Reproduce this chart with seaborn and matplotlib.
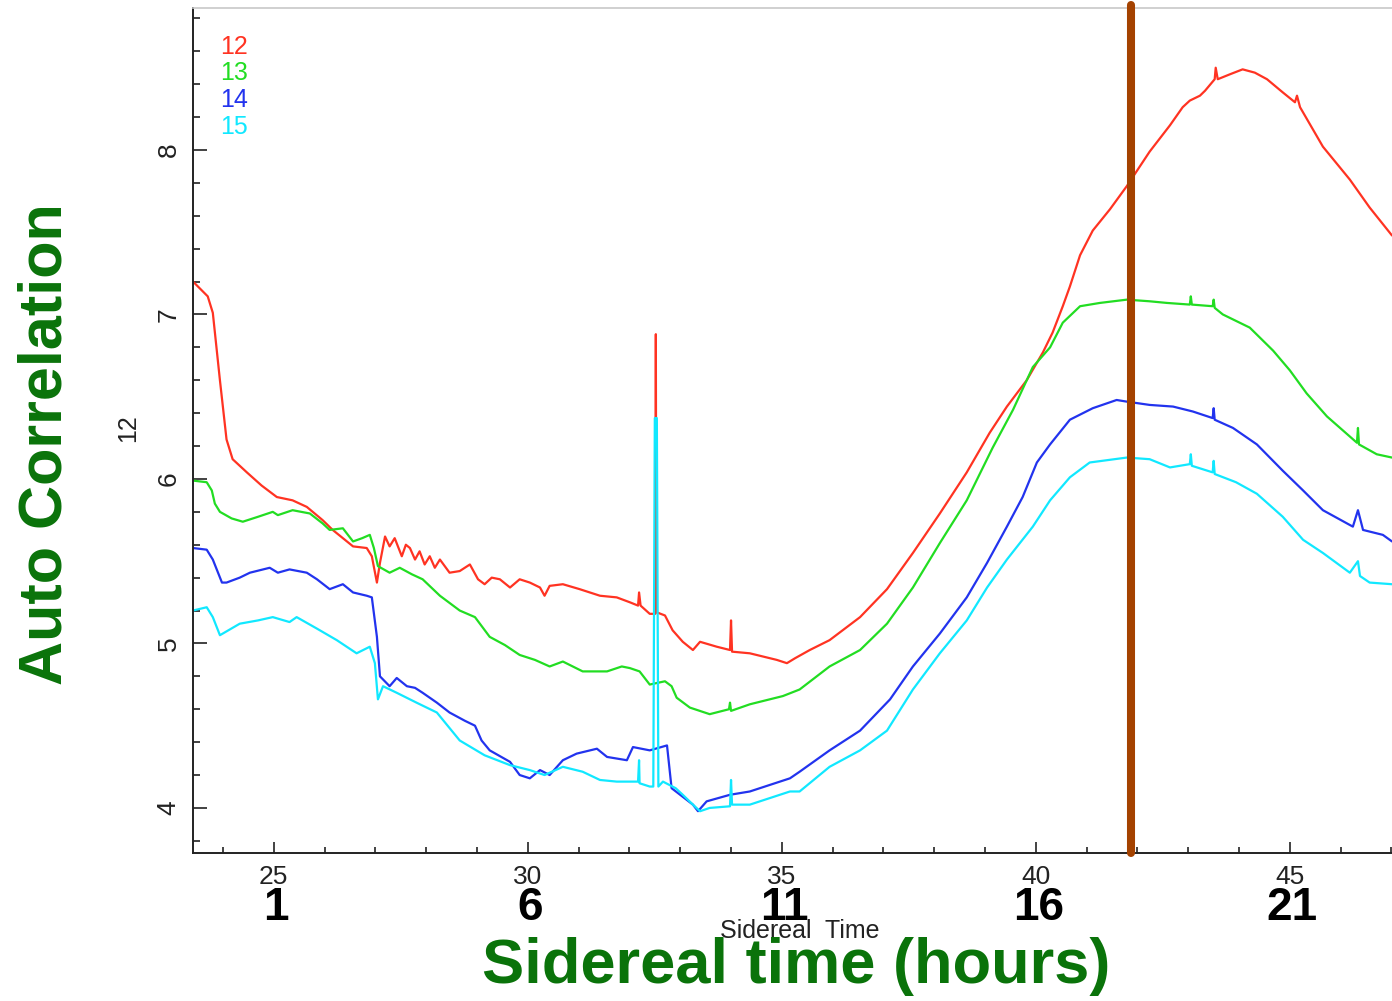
import numpy as np
import pandas as pd
import matplotlib
matplotlib.use("Agg")
import matplotlib.pyplot as plt
import seaborn as sns
from matplotlib.ticker import MultipleLocator, FixedLocator
from matplotlib.transforms import blended_transform_factory

# ---------------- data ----------------
channels = ["12", "13", "14", "15"]
line_colors = ["#ff3322", "#22dd22", "#2233ee", "#11e8ff"]

t12 = [23.41, 23.70, 23.80, 23.94, 24.07, 24.19, 24.47, 24.76, 25.06, 25.37, 25.65, 25.96, 26.16, 26.36,
       26.56, 26.83, 26.93, 27.03, 27.09, 27.19, 27.28, 27.38, 27.52, 27.60, 27.68, 27.78, 27.87, 27.97,
       28.07, 28.17, 28.27, 28.46, 28.66, 28.86, 29.02, 29.15, 29.29, 29.45, 29.65, 29.84, 30.04, 30.24,
       30.33, 30.43, 30.69, 31.02, 31.42, 31.75, 32.01, 32.17, 32.19, 32.22, 32.40, 32.51, 32.52, 32.53,
       32.70, 32.85, 33.05, 33.25, 33.39, 33.72, 33.98, 34.00, 34.02, 34.37, 34.90, 35.10, 35.26, 35.55,
       35.94, 36.24, 36.54, 37.07, 37.58, 38.11, 38.64, 39.09, 39.43, 39.82, 40.14, 40.33, 40.53, 40.67,
       40.87, 41.12, 41.46, 41.79, 42.24, 42.64, 42.89, 43.03, 43.23, 43.33, 43.52, 43.54, 43.58, 43.82,
       44.07, 44.31, 44.55, 44.86, 45.10, 45.14, 45.20, 45.65, 46.18, 46.57, 47.01]
ac12 = [7.20, 7.11, 7.01, 6.60, 6.24, 6.12, 6.04, 5.96, 5.89, 5.87, 5.83, 5.75, 5.69, 5.64,
        5.59, 5.58, 5.53, 5.37, 5.49, 5.65, 5.59, 5.64, 5.53, 5.60, 5.58, 5.51, 5.56, 5.48,
        5.53, 5.46, 5.51, 5.43, 5.44, 5.48, 5.39, 5.36, 5.40, 5.39, 5.34, 5.39, 5.37, 5.34,
        5.29, 5.35, 5.36, 5.33, 5.29, 5.28, 5.25, 5.23, 5.31, 5.23, 5.18, 5.18, 6.88, 5.19,
        5.17, 5.08, 5.01, 4.96, 5.01, 4.98, 4.96, 5.14, 4.95, 4.94, 4.90, 4.88, 4.91, 4.96,
        5.02, 5.09, 5.16, 5.33, 5.55, 5.79, 6.04, 6.28, 6.44, 6.60, 6.77, 6.89, 7.05, 7.17,
        7.36, 7.51, 7.64, 7.78, 7.99, 8.15, 8.26, 8.30, 8.33, 8.36, 8.43, 8.50, 8.43, 8.46,
        8.49, 8.47, 8.43, 8.35, 8.29, 8.33, 8.26, 8.02, 7.82, 7.65, 7.48]

t13 = [23.41, 23.68, 23.78, 23.84, 23.94, 24.17, 24.39, 24.69, 24.98, 25.08, 25.37, 25.71, 25.96, 26.10,
       26.36, 26.56, 26.74, 26.89, 26.97, 27.05, 27.28, 27.48, 27.72, 27.93, 28.27, 28.66, 28.96, 29.25,
       29.55, 29.84, 30.14, 30.43, 30.69, 31.08, 31.56, 31.85, 32.01, 32.20, 32.40, 32.70, 32.83, 32.93,
       33.19, 33.58, 33.96, 33.98, 34.00, 34.37, 35.02, 35.35, 35.94, 36.54, 37.07, 37.58, 38.11, 38.64,
       39.15, 39.55, 39.94, 40.28, 40.53, 40.87, 41.26, 41.79, 42.24, 42.58, 43.03, 43.05, 43.07, 43.48,
       43.50, 43.52, 43.68, 44.21, 44.67, 45.00, 45.33, 45.73, 46.32, 46.34, 46.36, 46.71, 47.01]
ac13 = [5.99, 5.98, 5.93, 5.85, 5.80, 5.76, 5.74, 5.77, 5.80, 5.78, 5.81, 5.79, 5.73, 5.69,
        5.70, 5.62, 5.64, 5.66, 5.58, 5.47, 5.43, 5.46, 5.42, 5.39, 5.29, 5.20, 5.16, 5.04,
        4.99, 4.93, 4.90, 4.86, 4.89, 4.83, 4.83, 4.86, 4.85, 4.83, 4.75, 4.77, 4.74, 4.67,
        4.61, 4.57, 4.60, 4.64, 4.59, 4.63, 4.68, 4.72, 4.86, 4.96, 5.12, 5.34, 5.61, 5.87,
        6.19, 6.42, 6.68, 6.80, 6.95, 7.05, 7.07, 7.09, 7.08, 7.07, 7.06, 7.11, 7.06, 7.05,
        7.09, 7.04, 7.00, 6.92, 6.78, 6.66, 6.52, 6.38, 6.22, 6.31, 6.21, 6.15, 6.13]

t14 = [23.41, 23.68, 23.80, 23.98, 24.07, 24.33, 24.53, 24.92, 25.08, 25.31, 25.65, 25.85, 26.10, 26.36,
       26.56, 26.83, 26.93, 27.03, 27.09, 27.28, 27.42, 27.62, 27.78, 27.93, 28.21, 28.46, 28.76, 28.96,
       29.09, 29.25, 29.65, 29.84, 30.04, 30.24, 30.43, 30.69, 30.96, 31.36, 31.56, 31.95, 32.07, 32.40,
       32.74, 32.83, 33.25, 33.35, 33.52, 33.98, 34.37, 35.16, 35.35, 35.94, 36.54, 37.13, 37.58, 38.11,
       38.64, 39.04, 39.43, 39.74, 40.02, 40.28, 40.67, 41.12, 41.59, 41.79, 42.24, 42.70, 43.09, 43.48,
       43.50, 43.52, 43.88, 44.35, 44.86, 45.26, 45.65, 46.24, 46.34, 46.44, 46.83, 47.01]
ac14 = [5.58, 5.57, 5.51, 5.37, 5.37, 5.40, 5.43, 5.46, 5.43, 5.45, 5.43, 5.39, 5.33, 5.36,
        5.31, 5.29, 5.28, 5.04, 4.80, 4.74, 4.79, 4.74, 4.73, 4.70, 4.64, 4.58, 4.53, 4.50,
        4.41, 4.35, 4.28, 4.20, 4.18, 4.23, 4.20, 4.29, 4.33, 4.36, 4.31, 4.29, 4.37, 4.35,
        4.38, 4.12, 4.02, 3.98, 4.04, 4.08, 4.10, 4.18, 4.22, 4.35, 4.47, 4.66, 4.86, 5.06,
        5.28, 5.49, 5.71, 5.89, 6.10, 6.21, 6.36, 6.43, 6.48, 6.47, 6.45, 6.44, 6.41, 6.37,
        6.43, 6.36, 6.31, 6.21, 6.05, 5.93, 5.81, 5.71, 5.81, 5.69, 5.66, 5.62]

t15 = [23.41, 23.68, 23.80, 23.94, 24.33, 24.69, 24.98, 25.31, 25.45, 25.85, 26.24, 26.63, 26.89, 26.99,
       27.05, 27.15, 27.42, 27.81, 28.21, 28.66, 29.15, 29.65, 30.04, 30.33, 30.69, 31.08, 31.42, 31.75,
       32.17, 32.19, 32.20, 32.40, 32.47, 32.50, 32.54, 32.57, 32.66, 32.91, 33.05, 33.25, 33.39, 33.58,
       33.98, 34.00, 34.02, 34.37, 35.16, 35.35, 35.94, 36.54, 37.07, 37.58, 38.11, 38.64, 39.04, 39.43,
       39.94, 40.28, 40.67, 41.06, 41.79, 42.24, 42.64, 43.03, 43.05, 43.07, 43.48, 43.50, 43.52, 43.94,
       44.35, 44.86, 45.26, 45.65, 46.18, 46.34, 46.38, 46.57, 47.01]
ac15 = [5.20, 5.22, 5.16, 5.05, 5.12, 5.14, 5.16, 5.13, 5.16, 5.09, 5.02, 4.94, 4.98, 4.88,
        4.66, 4.74, 4.70, 4.64, 4.58, 4.41, 4.32, 4.26, 4.23, 4.20, 4.25, 4.22, 4.17, 4.16,
        4.16, 4.29, 4.15, 4.13, 4.13, 6.37, 6.37, 4.13, 4.16, 4.12, 4.08, 4.02, 3.98, 4.00,
        4.01, 4.17, 4.02, 4.02, 4.10, 4.10, 4.25, 4.35, 4.47, 4.72, 4.94, 5.14, 5.34, 5.51,
        5.71, 5.87, 6.01, 6.10, 6.13, 6.12, 6.07, 6.09, 6.15, 6.08, 6.04, 6.11, 6.03, 5.98,
        5.91, 5.77, 5.63, 5.55, 5.43, 5.50, 5.41, 5.37, 5.36]

marker_time = 41.87
x_ticks = [25, 30, 35, 40, 45]
hour_labels = ["1", "6", "11", "16", "21"]
y_ticks = [4, 5, 6, 7, 8]

# ---------------- figure ----------------
sns.set_style("ticks")
plt.rcParams["font.family"] = ["Liberation Sans", "DejaVu Sans"]

fig = plt.figure(figsize=(13.92, 10.01), dpi=100)
ax = fig.add_axes([193 / 1392, 1 - 853 / 1001, 1 - 193 / 1392, (853 - 8) / 1001])

df = pd.concat(
    [pd.DataFrame({"t": t, "ac": a, "ch": c})
     for t, a, c in zip([t12, t13, t14, t15], [ac12, ac13, ac14, ac15], channels)],
    ignore_index=True)

sns.lineplot(data=df, x="t", y="ac", hue="ch", hue_order=channels,
             palette=dict(zip(channels, line_colors)), sort=False, estimator=None,
             legend=False, linewidth=1.6, ax=ax)

ax.axvline(marker_time, ymin=0, ymax=1.004, color="#a44200", linewidth=5.8,
           clip_on=False, zorder=5)

ax.set_xlim(23.41, 47.01)
ax.set_ylim(3.726, 8.863)

ax.xaxis.set_major_locator(FixedLocator(x_ticks))
ax.xaxis.set_minor_locator(MultipleLocator(1))
ax.yaxis.set_major_locator(FixedLocator(y_ticks))
ax.yaxis.set_minor_locator(MultipleLocator(0.2))

ax.tick_params(axis="both", which="both", direction="in", color="#222222", width=1.2)
ax.tick_params(axis="x", which="major", length=8, labelsize=19, pad=9, labelcolor="#222222")
ax.tick_params(axis="x", which="minor", length=4.5)
ax.tick_params(axis="y", which="major", length=10, labelsize=19, pad=9, labelcolor="#222222")
ax.tick_params(axis="y", which="minor", length=5)
for lab in ax.get_yticklabels():
    lab.set_rotation(90)
    lab.set_va("center")

ax.spines["right"].set_visible(False)
ax.spines["top"].set_color("#c8c8c8")
ax.spines["top"].set_linewidth(1.2)
ax.spines["left"].set_linewidth(1.4)
ax.spines["bottom"].set_linewidth(1.4)
ax.spines["left"].set_color("#222222")
ax.spines["bottom"].set_color("#222222")
ax.set_xlabel("")
ax.set_ylabel("")

# legend as coloured texts
for i, (c, col) in enumerate(zip(channels, line_colors)):
    fig.text(220 / 1392, 1 - (47 + 26.5 * i) / 1001, c, color=col, fontsize=18,
             ha="left", va="center")

# small y label
fig.text(128 / 1392, 1 - 428 / 1001, "12", rotation=90, fontsize=18, color="#222222",
         ha="center", va="center")

# hour labels under ticks
trans = blended_transform_factory(ax.transData, fig.transFigure)
for xv, hl in zip(x_ticks, hour_labels):
    ax.text(xv + 0.05, 1 - 908 / 1001, hl, transform=trans, fontsize=33, fontweight="bold",
            ha="center", va="center", color="black", clip_on=False)

fig.text(800 / 1392, 1 - 931 / 1001, "Sidereal  Time", fontsize=18, color="#222222",
         ha="center", va="center")

green = "#0a730a"
fig.text(796 / 1392, 1 - 966 / 1001, "Sidereal time (hours)", fontsize=45.5,
         fontweight="bold", color=green, ha="center", va="center")
fig.text(46 / 1392, 1 - 444 / 1001, "Auto Correlation", fontsize=44, rotation=90,
         fontweight="bold", color=green, ha="center", va="center")

fig.savefig("out.png", dpi=100)
